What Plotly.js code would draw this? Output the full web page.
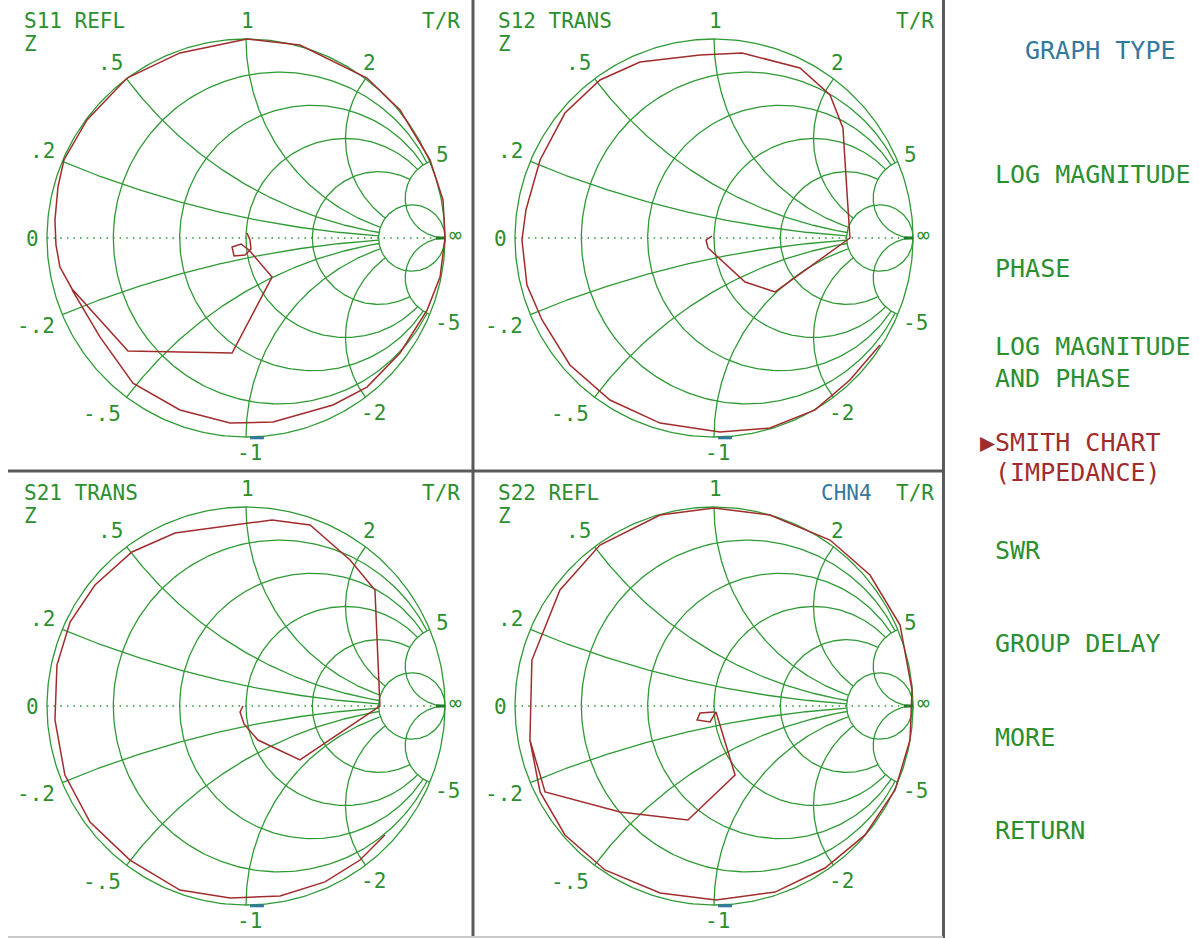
<!DOCTYPE html>
<html><head><meta charset="utf-8">
<script src="https://cdn.plot.ly/plotly-3.0.1.min.js"></script>
<style>html,body{margin:0;padding:0;background:#fff;}#chart{width:1199px;height:938px;}</style>
</head><body><div id="chart"></div>
<script>
// ---- Data: trace positions on the reflection-coefficient plane (Re, Im) ----
const s11Re = [0.005,0.02,0.025,-0.005,-0.06,-0.07,-0.025,0.015,0.131,-0.07,-0.332,-0.593,-0.874,-0.935,-0.955,-0.96,-0.945,-0.915,-0.799,-0.598,-0.332,0.005,0.271,0.608,0.774,0.925,0.99,1.0,0.975,0.91,0.774,0.608,0.437,0.136,-0.08,-0.332,-0.568,-0.734,-0.874];
const s11Im = [0.025,-0.01,-0.055,-0.085,-0.09,-0.045,-0.03,-0.06,-0.196,-0.578,-0.573,-0.568,-0.256,-0.146,-0.035,0.09,0.256,0.392,0.593,0.804,0.93,1.0,0.97,0.804,0.643,0.392,0.191,0,-0.196,-0.362,-0.578,-0.749,-0.839,-0.925,-0.93,-0.864,-0.729,-0.497,-0.261];

const s12Re = [-0.01,-0.04,-0.03,0.156,0.307,0.683,0.658,0.648,0.583,0.432,0.141,-0.07,-0.372,-0.573,-0.749,-0.874,-0.945,-0.965,-0.94,-0.864,-0.724,-0.523,-0.271,0.03,0.281,0.508,0.683,0.834];
const s12Im = [0.01,-0.01,-0.05,-0.221,-0.271,0,0.392,0.553,0.719,0.854,0.93,0.92,0.884,0.794,0.628,0.392,0.141,-0.01,-0.236,-0.412,-0.638,-0.814,-0.93,-0.975,-0.955,-0.864,-0.714,-0.538];

const s21Re = [-0.015,-0.03,-0.01,0.06,0.271,0.673,0.648,0.523,0.322,0.131,-0.357,-0.573,-0.759,-0.884,-0.95,-0.96,-0.91,-0.784,-0.583,-0.332,-0.08,0.171,0.397,0.573,0.698];
const s21Im = [0,-0.03,-0.09,-0.171,-0.271,0,0.583,0.734,0.91,0.935,0.869,0.774,0.608,0.422,0.206,-0.07,-0.347,-0.583,-0.774,-0.925,-0.965,-0.955,-0.884,-0.774,-0.648];

const s22Re = [0,-0.07,-0.085,-0.02,0.01,0.106,-0.131,-0.472,-0.849,-0.925,-0.915,-0.774,-0.573,-0.271,0,0.281,0.583,0.784,0.935,0.995,0.985,0.91,0.759,0.558,0.307,0.01,-0.271,-0.548,-0.749,-0.874,-0.925];
const s22Im = [-0.03,-0.035,-0.07,-0.08,-0.03,-0.347,-0.573,-0.533,-0.432,-0.171,0.231,0.583,0.809,0.96,0.995,0.96,0.834,0.658,0.407,0.08,-0.171,-0.422,-0.648,-0.814,-0.935,-0.975,-0.94,-0.824,-0.648,-0.432,-0.171];

// ---- Text ----
const panelTitles = ['S11 REFL','S12 TRANS','S21 TRANS','S22 REFL'];
const formatLabel = 'Z';
const reactanceTicks = [0.2, 0.5, 1, 2, 5];
const resistanceTicks = [0.2, 0.5, 1, 2, 5];
const scaleLabels = ['1','.5','.2','0','-.2','-.5','-1','-2','-5','∞','5','2'];
const menuTitle = 'GRAPH TYPE';
const menuItems = ['LOG MAGNITUDE','PHASE','LOG MAGNITUDE','AND PHASE','▶SMITH CHART','(IMPEDANCE)','SWR','GROUP DELAY','MORE','RETURN'];

// ---- Layout / style ----
const W = 1199, H = 938, R = 199;
const GREEN = '#2f9a35', TXT = '#2c8f2f', RED = '#a12c2c', BLUE = '#34789e', DIV = '#5a5a5a';
const FONT = 'DejaVu Sans Mono';
const panels = [
  {box:[0,472,0,470], c:[246,238], re:s11Re, im:s11Im},
  {box:[474,943,0,470], c:[714,238], re:s12Re, im:s12Im},
  {box:[0,472,472,938], c:[246,706], re:s21Re, im:s21Im},
  {box:[474,943,472,938], c:[714,706], re:s22Re, im:s22Im}
];
// label offsets from circle centre (px) for scaleLabels
const labelOff = [[1,-217.5],[-136,-175],[-204,-87.5],[-214,1],[-210,87.5],[-143.7,176.3],[3,215.3],[127.3,175.3],[201.5,84.5],[209.5,-3],[196.5,-83.5],[123,-175.5]];

function gam(r, x){ // z -> reflection coefficient
  const nr = r-1, dr = r+1, d = dr*dr + x*x;
  return [(nr*dr + x*x)/d, (x*dr - nr*x)/d];
}
function arc(cx, cy, rad, a0, a1, n){
  const xs=[], ys=[];
  for(let i=0;i<=n;i++){const a=a0+(a1-a0)*i/n; xs.push(cx+rad*Math.cos(a)); ys.push(cy+rad*Math.sin(a));}
  return [xs, ys];
}
function gridPaths(){
  const xs=[], ys=[];
  const add = p => { xs.push(...p[0], null); ys.push(...p[1], null); };
  // outer circle and r=5 full
  add(arc(0,0,1,0,2*Math.PI,360));
  const rMax = resistanceTicks[resistanceTicks.length-1];
  const xMax = reactanceTicks[reactanceTicks.length-1];
  add(arc(rMax/(1+rMax),0,1/(1+rMax),0,2*Math.PI,120));
  // other r circles truncated at |x| <= xMax
  resistanceTicks.slice(0,-1).forEach(r=>{
    const c=r/(1+r), rad=1/(1+r), g=gam(r,xMax);
    const t=Math.atan2(g[1], g[0]-c);
    add(arc(c,0,rad,t,2*Math.PI-t,240));
  });
  // reactance arcs
  reactanceTicks.forEach(x=>{
    [x,-x].forEach(xx=>{
      const cy=1/xx, rad=Math.abs(1/xx);
      const A=gam(0,xx), B = (Math.abs(xx)===xMax) ? [1,0] : gam(rMax,xx);
      let a0=Math.atan2(A[1]-cy,A[0]-1), a1=Math.atan2(B[1]-cy,B[0]-1);
      let d=a1-a0; while(d>Math.PI)d-=2*Math.PI; while(d<-Math.PI)d+=2*Math.PI;
      add(arc(1,cy,rad,a0,a0+d,200));
    });
  });
  return [xs, ys];
}

const traces = [], annotations = [], shapes = [];
const layout = {width:W, height:H, margin:{l:0,r:0,t:0,b:0}, paper_bgcolor:'#fff', plot_bgcolor:'rgba(0,0,0,0)', showlegend:false};
const grid = gridPaths();
panels.forEach((p,i)=>{
  const k = i===0 ? '' : String(i+1);
  const [x0,x1,y0,y1] = p.box, [cx,cy] = p.c;
  layout['xaxis'+k] = {domain:[x0/W, x1/W], range:[(x0-cx)/R,(x1-cx)/R], visible:false, fixedrange:true, anchor:'y'+k};
  layout['yaxis'+k] = {domain:[1-y1/H, 1-y0/H], range:[(cy-y1)/R,(cy-y0)/R], visible:false, fixedrange:true, anchor:'x'+k};
  const xa='x'+k, ya='y'+k;
  traces.push({type:'scatter', mode:'lines', x:grid[0], y:grid[1], xaxis:xa, yaxis:ya, line:{color:GREEN, width:1.3}, hoverinfo:'skip'});
  traces.push({type:'scatter', mode:'lines', x:[-1,1], y:[0,0], xaxis:xa, yaxis:ya, line:{color:GREEN, width:1.6, dash:'1.6px,5px'}, hoverinfo:'skip'});
  traces.push({type:'scatter', mode:'lines', x:[0.955,1.0], y:[0,0], xaxis:xa, yaxis:ya, line:{color:'#1f7a25', width:3}, hoverinfo:'skip'});
  traces.push({type:'scatter', mode:'lines', x:[0.02,0.09], y:[-1.004,-1.004], xaxis:xa, yaxis:ya, line:{color:BLUE, width:3}, hoverinfo:'skip'});
  traces.push({type:'scatter', mode:'lines', x:p.re, y:p.im, xaxis:xa, yaxis:ya, line:{color:RED, width:1.5}, hoverinfo:'skip'});
  scaleLabels.forEach((t,j)=>{
    annotations.push({text:t, xref:xa, yref:ya, x:labelOff[j][0]/R, y:-labelOff[j][1]/R, showarrow:false, xanchor:'center', yanchor:'middle', font:{family:FONT, size:21, color:TXT}});
  });
  // titles (paper px)
  const px = v=>v/W, py = v=>1-v/H;
  annotations.push({text:panelTitles[i], xref:'paper', yref:'paper', x:px(x0+22), y:py(y0+21), xanchor:'left', yanchor:'middle', showarrow:false, font:{family:FONT,size:21,color:TXT}});
  annotations.push({text:formatLabel, xref:'paper', yref:'paper', x:px(x0+22), y:py(y0+43.5), xanchor:'left', yanchor:'middle', showarrow:false, font:{family:FONT,size:21,color:TXT}});
  annotations.push({text:'T/R', xref:'paper', yref:'paper', x:px(x0+462), y:py(y0+21), xanchor:'right', yanchor:'middle', showarrow:false, font:{family:FONT,size:21,color:TXT}});
  if(i===3) annotations.push({text:'CHN4', xref:'paper', yref:'paper', x:px(x0+400), y:py(y0+21), xanchor:'right', yanchor:'middle', showarrow:false, font:{family:FONT,size:21,color:BLUE}});
});
// menu
const menuY = [175,269,346,378,442,472,550,643,737,830];
annotations.push({text:menuTitle, xref:'paper', yref:'paper', x:1023/W, y:1-50/H, xanchor:'left', yanchor:'middle', showarrow:false, font:{family:FONT,size:25,color:BLUE}});
menuItems.forEach((t,j)=>{
  const sel = t.startsWith('▶') || t.startsWith('(IMP');
  annotations.push({text:t, xref:'paper', yref:'paper', x:(t.startsWith('▶')?977.7:993)/W, y:1-menuY[j]/H, xanchor:'left', yanchor:'middle', showarrow:false, font:{family:FONT,size:25,color:sel?RED:TXT}});
});
// dividers
const ln = (xa,ya,xb,yb,c,w)=>shapes.push({type:'line', xref:'paper', yref:'paper', x0:xa/W, y0:1-ya/H, x1:xb/W, y1:1-yb/H, line:{color:c,width:w}});
ln(473,0,473,938,DIV,3);
ln(943.5,0,943.5,938,DIV,3);
ln(8,471,943,471,DIV,3);
ln(8,937,943,937,'#c8c8c8',2);
layout.annotations = annotations;
layout.shapes = shapes;
Plotly.newPlot('chart', traces, layout, {displayModeBar:false, staticPlot:true});
</script>
</body></html>
